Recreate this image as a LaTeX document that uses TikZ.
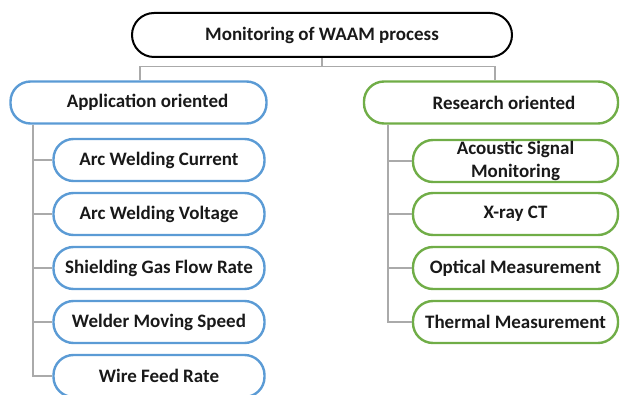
\documentclass[tikz,border=0pt]{standalone}
\usepackage{fontspec}
\setmainfont{Carlito}
\begin{document}
\begin{tikzpicture}[x=1pt,y=-1pt,
  box/.style={draw, line width=2.4pt, rounded corners=20pt, minimum height=42pt, inner sep=0pt, align=center, font=\fontsize{19}{22.5}\selectfont\bfseries, text=black!90},
  topbox/.style={box, draw=black, line width=2pt, minimum width=380pt, minimum height=44pt, rounded corners=22pt},
  bluebox/.style={box, draw=blueC},
  greenbox/.style={box, draw=greenC},
  conn/.style={draw=grayC, line width=1.3pt}]
\definecolor{blueC}{RGB}{91,155,213}
\definecolor{greenC}{RGB}{112,173,71}
\definecolor{grayC}{RGB}{170,170,170}
\useasboundingbox (0,0) rectangle (621,395);
\node[topbox] (top) at (322,35) {Monitoring of WAAM process};
\node[bluebox, minimum width=256pt] (app) at (138.5,102.5) {\hspace*{18pt}Application oriented};
\node[greenbox, minimum width=254pt] (res) at (491,102.5) {\hspace*{26pt}Research oriented};
\foreach \n/\y/\t in {a1/160/Arc Welding Current, a2/214/Arc Welding Voltage, a3/268/Shielding Gas Flow Rate, a4/322/Welder Moving Speed, a5/376/Wire Feed Rate}
  \node[bluebox, minimum width=211pt] (\n) at (159,\y) {\t};
\foreach \n/\y/\t in {r1/161/{Acoustic Signal\\Monitoring}, r2/214/X-ray CT, r3/268/Optical Measurement, r4/322/Thermal Measurement}
  \node[greenbox, minimum width=205pt] (\n) at (515.5,\y) {\t};
\coordinate (hm) at (322,66.5);
\draw[conn] (top.south) -- (hm);
\draw[conn] (app.north -| 140,0) |- (hm) -| (res.north -| 495,0);
\coordinate (ls) at (33,0);
\coordinate (rs) at (388,0);
\draw[conn] (app.south -| ls) |- (a5.west);
\foreach \n in {a1,a2,a3,a4} \draw[conn] (\n.west -| ls) -- (\n.west);
\draw[conn] (res.south -| rs) |- (r4.west);
\foreach \n in {r1,r2,r3} \draw[conn] (\n.west -| rs) -- (\n.west);
\end{tikzpicture}
\end{document}
